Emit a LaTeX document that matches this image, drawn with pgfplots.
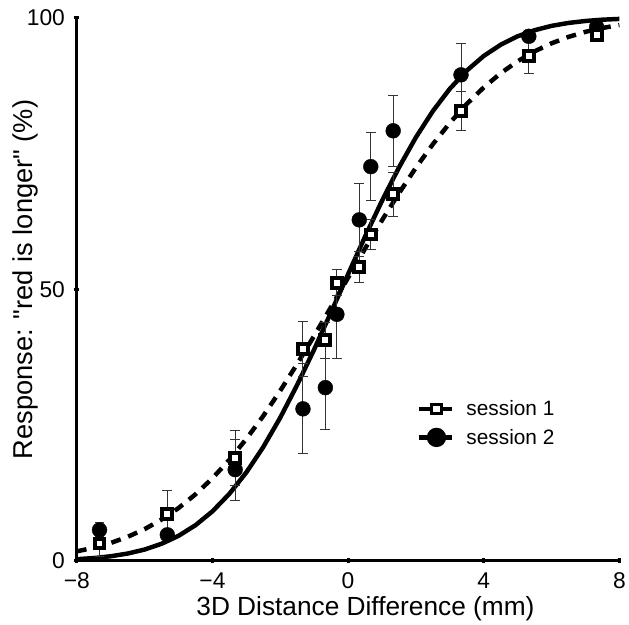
\documentclass[border=0pt]{standalone}
\usepackage{fontspec}
\setmainfont{Liberation Sans}
\usepackage{pgfplots}
\usepackage{pgfplotstable}
\pgfplotsset{compat=1.18}

% x: distance difference (mm); y1/e1 session 1, y2/e2 session 2 (%)
\pgfplotstableread{
x      y1    e1   y2    e2
-7.33  3.2   2.3  5.7   1.3
-5.33  8.7   4.3  4.8   0.5
-3.33  19.0  5.1  16.8  5.6
-1.33  39.0  5.1  28.0  8.3
-0.67  40.6  3.3  31.9  7.7
-0.33  51.2  2.4  45.4  8.2
0.33   54.1  2.8  62.8  6.7
0.67   60.1  2.8  72.6  6.3
1.33   67.5  4.0  79.2  6.5
3.33   82.9  3.6  89.5  5.8
5.33   92.9  3.2  96.6  1.0
7.33   96.8  1.0  98.3  0.5
}\datatable

\begin{document}
\begin{tikzpicture}
\begin{axis}[
  at={(0,0)}, anchor=south west,
  scale only axis,
  width=547.5pt, height=548pt,
  xmin=-8, xmax=8, ymin=0, ymax=100,
  axis lines=left,
  axis line style={-, line width=3pt},
  xtick={-8,-4,0,4,8},
  xticklabels={−8,−4,0,4,8},
  ytick={0,50,100},
  /pgf/number format/assume math mode=true,
  tick style={line width=3pt, black},
  major tick length=5pt,
  tick label style={font=\fontsize{23}{26}\selectfont},
  xticklabel style={yshift=-6pt},
  yticklabel style={xshift=-6pt},
  xlabel={3D Distance Difference (mm)},
  ylabel={Response: \textquotedbl red is longer\textquotedbl\ (\%)},
  xlabel style={font=\fontsize{26.5}{30}\selectfont,
    at={(axis description cs:0.532,-0.1004)}, anchor=base},
  ylabel style={font=\fontsize{27.5}{30}\selectfont,
    at={(axis description cs:-0.0813,0.518)}, anchor=base},
  legend style={at={(axis description cs:0.6256,0.299)}, anchor=north west,
    draw=none, fill=none, inner sep=0pt, row sep=8pt,
    font=\fontsize{21}{24}\selectfont},
  legend cell align=left,
  legend image code/.code={
    \draw[#1, solid] (0pt,0pt) -- (34pt,0pt);
    \draw[#1, solid] plot coordinates {(18pt,0pt)};
    \path (44pt,0pt);
  },
  error bars/error bar style={line width=1pt, black!80},
  error bars/error mark options={rotate=90, mark size=5pt, line width=1pt, black!80},
  clip=false,
]
\addlegendimage{line width=4.5pt, mark=square*, mark size=5pt, mark options={fill=white, draw=black, line width=3pt}}
\addlegendentry{session 1}
\addlegendimage{line width=4.5pt, mark=*, mark size=7.5pt}
\addlegendentry{session 2}

% session 2 fitted curve
\addplot[forget plot, line width=4.5pt, no markers] coordinates {
  (-8,0.31) (-7.5,0.52) (-7,0.85) (-6.5,1.35) (-6,2.09) (-5.5,3.15) (-5,4.61)
  (-4.5,6.57) (-4,9.12) (-3.5,12.35) (-3,16.30) (-2.5,20.98) (-2,26.38)
  (-1.5,32.42) (-1,38.94) (-0.5,45.82) (0,52.79) (0.5,59.70) (1,66.31)
  (1.5,72.44) (2,77.99) (2.5,82.83) (3,86.93) (3.5,90.29) (4,92.98)
  (4.5,95.04) (5,96.60) (5.5,97.72) (6,98.52) (6.5,99.06) (7,99.42)
  (7.5,99.66) (8,99.80)
};
% session 1 fitted curve
\addplot[forget plot, line width=4.5pt, no markers, dash pattern=on 10pt off 8pt] coordinates {
  (-8,1.75) (-7.5,2.43) (-7,3.30) (-6.5,4.43) (-6,5.85) (-5.5,7.61) (-5,9.73)
  (-4.5,12.26) (-4,15.22) (-3.5,18.62) (-3,22.46) (-2.5,26.70) (-2,31.34)
  (-1.5,36.28) (-1,41.45) (-0.5,46.77) (0,52.15) (0.5,57.50) (1,62.72)
  (1.5,67.70) (2,72.40) (2.5,76.73) (3,80.64) (3.5,84.13) (4,87.18)
  (4.5,89.80) (5,92.00) (5.5,93.83) (6,95.31) (6.5,96.49) (7,97.42)
  (7.5,98.13) (8,98.67)
};

\addplot[forget plot, only marks, mark=*, mark size=7.5pt, black,
  error bars/.cd, y dir=both, y explicit]
  table[x=x, y=y2, y error=e2] {\datatable};
\addplot[forget plot, only marks, mark=square*, mark size=5pt,
  mark options={fill=white, draw=black, line width=4pt},
  error bars/.cd, y dir=both, y explicit]
  table[x=x, y=y1, y error=e1] {\datatable};
\end{axis}
\path (-77.5pt,-63pt) rectangle (551.5pt,566pt);
\end{tikzpicture}
\end{document}
